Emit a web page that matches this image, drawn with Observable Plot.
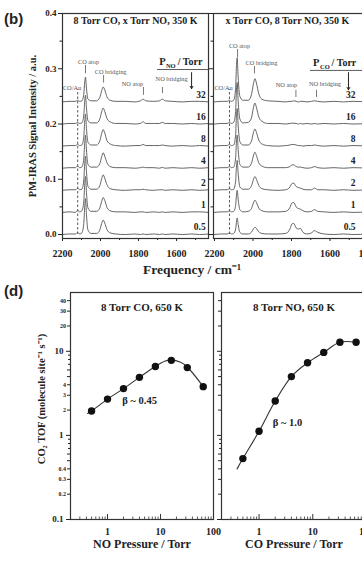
<!DOCTYPE html>
<html><head><meta charset="utf-8">
<script src="https://cdn.jsdelivr.net/npm/d3@7"></script>
<script src="https://cdn.jsdelivr.net/npm/@observablehq/plot@0.6"></script>
<style>
html,body{margin:0;padding:0;background:#fff;}
#fig{position:relative;width:362px;height:561px;overflow:hidden;background:#fff;color:#222;}
.lbl{position:absolute;font-weight:bold;white-space:nowrap;line-height:1;}
</style></head><body><div id="fig"></div>
<script>
// ---------- panel (b) data : PM-IRAS spectra ----------
const traceLabels = ["0.5", "1", "2", "4", "8", "16", "32"];
const traceOffsets = [0, 0.04, 0.08, 0.12, 0.16, 0.20, 0.24];

// left: 8 Torr CO, x Torr NO
const freqNO = [2200, 2160, 2132, 2120, 2110, 2098, 2088, 2083, 2079, 2074, 2066, 2050, 2020, 2004, 1994, 1986, 1978, 1966, 1950, 1920, 1870, 1820, 1790, 1776, 1762, 1720, 1690, 1675, 1660, 1620, 1570, 1520, 1480, 1432];
const specNO = [
  [0.000, 0.001, 0.001, 0.004, 0.001, 0.003, 0.020, 0.052, 0.065, 0.036, 0.008, 0.002, 0.002, 0.008, 0.020, 0.026, 0.021, 0.009, 0.003, 0.001, 0.000, 0.001, 0.000, 0.001, 0.000, 0.001, 0.000, 0.001, 0.000, 0.001, 0.000, 0.001, 0.000, 0.001],
  [0.000, 0.001, 0.000, 0.004, 0.001, 0.003, 0.020, 0.052, 0.065, 0.036, 0.008, 0.002, 0.002, 0.008, 0.020, 0.027, 0.022, 0.009, 0.003, 0.001, 0.001, 0.000, 0.001, 0.001, 0.000, 0.001, 0.000, 0.001, 0.000, 0.001, 0.000, 0.001, 0.001, 0.000],
  [0.000, 0.001, 0.001, 0.004, 0.001, 0.002, 0.019, 0.050, 0.062, 0.034, 0.007, 0.002, 0.002, 0.008, 0.021, 0.028, 0.022, 0.010, 0.003, 0.001, 0.000, 0.001, 0.001, 0.002, 0.001, 0.000, 0.001, 0.001, 0.000, 0.001, 0.000, 0.001, 0.000, 0.001],
  [0.000, 0.001, 0.001, 0.004, 0.001, 0.002, 0.018, 0.048, 0.060, 0.033, 0.007, 0.002, 0.002, 0.008, 0.021, 0.028, 0.022, 0.010, 0.003, 0.001, 0.001, 0.000, 0.001, 0.002, 0.001, 0.001, 0.000, 0.0015, 0.000, 0.001, 0.000, 0.001, 0.000, 0.001],
  [0.000, 0.001, 0.001, 0.003, 0.001, 0.002, 0.017, 0.046, 0.058, 0.032, 0.007, 0.002, 0.002, 0.009, 0.023, 0.030, 0.024, 0.010, 0.004, 0.001, 0.000, 0.001, 0.001, 0.003, 0.001, 0.001, 0.001, 0.002, 0.001, 0.000, 0.001, 0.000, 0.001, 0.000],
  [0.000, 0.001, 0.001, 0.003, 0.001, 0.002, 0.016, 0.042, 0.052, 0.029, 0.006, 0.002, 0.002, 0.009, 0.022, 0.029, 0.023, 0.010, 0.004, 0.001, 0.001, 0.000, 0.001, 0.004, 0.001, 0.001, 0.001, 0.003, 0.001, 0.001, 0.000, 0.001, 0.000, 0.001],
  [0.000, 0.001, 0.001, 0.003, 0.001, 0.002, 0.014, 0.036, 0.045, 0.025, 0.005, 0.002, 0.002, 0.008, 0.020, 0.027, 0.022, 0.009, 0.003, 0.001, 0.001, 0.000, 0.002, 0.005, 0.002, 0.001, 0.002, 0.005, 0.002, 0.001, 0.000, 0.001, 0.001, 0.000]
];

// right: x Torr CO, 8 Torr NO
const freqCO = [2200, 2160, 2134, 2122, 2112, 2100, 2090, 2086, 2082, 2077, 2068, 2052, 2024, 2008, 1998, 1990, 1982, 1970, 1954, 1924, 1870, 1830, 1808, 1798, 1788, 1776, 1764, 1754, 1740, 1720, 1696, 1680, 1664, 1630, 1580, 1530, 1480, 1400];
const specCO = [
  [0, 0.001, 0.001, 0.003, 0.001, 0.002, 0.010, 0.022, 0.030, 0.018, 0.004, 0.001, 0.001, 0.004, 0.010, 0.013, 0.011, 0.005, 0.002, 0.001, 0.001, 0.002, 0.010, 0.019, 0.020, 0.012, 0.010, 0.011, 0.004, 0.001, 0.003, 0.007, 0.004, 0.001, 0.000, 0.001, 0.000, 0.001],
  [0, 0.001, 0.001, 0.003, 0.001, 0.002, 0.013, 0.030, 0.040, 0.024, 0.005, 0.001, 0.002, 0.007, 0.017, 0.022, 0.018, 0.008, 0.003, 0.001, 0.001, 0.002, 0.009, 0.017, 0.018, 0.010, 0.007, 0.006, 0.003, 0.001, 0.002, 0.005, 0.002, 0.001, 0.000, 0.001, 0.000, 0.001],
  [0, 0.001, 0.001, 0.003, 0.001, 0.002, 0.017, 0.042, 0.054, 0.031, 0.006, 0.002, 0.002, 0.008, 0.019, 0.025, 0.020, 0.009, 0.003, 0.001, 0.000, 0.001, 0.006, 0.012, 0.013, 0.007, 0.005, 0.004, 0.002, 0.001, 0.001, 0.004, 0.001, 0.001, 0.000, 0.001, 0.000, 0.001],
  [0, 0.001, 0.001, 0.003, 0.001, 0.002, 0.019, 0.047, 0.060, 0.034, 0.007, 0.002, 0.002, 0.009, 0.022, 0.029, 0.023, 0.010, 0.004, 0.001, 0.001, 0.001, 0.003, 0.006, 0.006, 0.003, 0.002, 0.002, 0.001, 0.000, 0.001, 0.003, 0.001, 0.000, 0.001, 0.000, 0.001, 0.000],
  [0, 0.001, 0.001, 0.003, 0.001, 0.002, 0.021, 0.054, 0.068, 0.038, 0.008, 0.002, 0.002, 0.009, 0.024, 0.031, 0.025, 0.011, 0.004, 0.001, 0.000, 0.001, 0.002, 0.003, 0.003, 0.002, 0.001, 0.001, 0.000, 0.001, 0.001, 0.002, 0.001, 0.000, 0.001, 0.000, 0.001, 0.000],
  [0, 0.001, 0.001, 0.003, 0.001, 0.003, 0.023, 0.060, 0.075, 0.042, 0.009, 0.002, 0.003, 0.011, 0.029, 0.038, 0.030, 0.013, 0.005, 0.001, 0.001, 0.000, 0.001, 0.0015, 0.0015, 0.001, 0.000, 0.001, 0.000, 0.001, 0.000, 0.001, 0.000, 0.001, 0.000, 0.001, 0.000, 0.001],
  [0, 0.001, 0.001, 0.003, 0.001, 0.003, 0.025, 0.064, 0.080, 0.045, 0.010, 0.003, 0.003, 0.013, 0.032, 0.042, 0.034, 0.015, 0.005, 0.002, 0.001, 0.000, 0.001, 0.001, 0.002, 0.001, 0.000, 0.001, 0.001, 0.000, 0.001, 0.002, 0.001, 0.000, 0.001, 0.000, 0.001, 0.000]
];

const yTicksB = [0, 0.1, 0.2, 0.3, 0.4];
const yMinorB = [0.05, 0.15, 0.25, 0.35];
const xTicksB = [2200, 2000, 1800, 1600, 1400];
const xMinorB = [2100, 1900, 1700, 1500];

// peak annotations (frequency / intensity)
const peaksNO = [
  {t: "CO atop", f: 2063, v: 0.313, tick: 2079, v1: 0.306, v2: 0.291},
  {t: "CO bridging", f: 1947, v: 0.295, tick: 1984, v1: 0.288, v2: 0.274},
  {t: "NO atop", f: 1832, v: 0.273, tick: 1774, v1: 0.266, v2: 0.252},
  {t: "NO bridging", f: 1626, v: 0.281, tick: 1674, v1: 0.266, v2: 0.255},
  {t: "CO/Au", f: 2150, v: 0.266}
];
const peaksCO = [
  {t: "CO atop", f: 2070, v: 0.342, tick: 2080, v1: 0.335, v2: 0.320},
  {t: "CO bridging", f: 1956, v: 0.311, tick: 1992, v1: 0.304, v2: 0.291},
  {t: "NO atop", f: 1826, v: 0.2715, tick: 1777, v1: 0.261, v2: 0.248},
  {t: "NO bridging", f: 1626, v: 0.273, tick: 1670, v1: 0.261, v2: 0.248},
  {t: "CO/Au", f: 2153, v: 0.266}
];

// ---------- panel (d) data : CO2 TOF ----------
const pressNO = [0.5, 1, 2, 4, 8, 16, 32, 64];
const tofNO = [1.95, 2.7, 3.6, 4.9, 6.6, 7.8, 6.4, 3.8];
const fitNOx = [0.42, 0.5, 1, 2, 4, 8, 12, 16, 24, 32, 64];
const fitNOy = [1.82, 1.95, 2.7, 3.6, 4.9, 6.6, 7.6, 7.9, 7.4, 6.5, 3.8];
const pressCO = [0.5, 1, 2, 4, 8, 16, 32, 64];
const tofCO = [0.53, 1.12, 2.56, 5.0, 7.3, 9.7, 12.8, 12.8];
const fitCOx = [0.39, 0.5, 1, 2, 4, 8, 16, 32, 64];
const fitCOy = [0.40, 0.53, 1.12, 2.56, 5.0, 7.3, 9.7, 12.8, 12.8];

const yMajorD = [0.1, 1, 10];
const yMinorLabD = [0.2, 0.3, 0.4, 0.5, 0.6, 2, 3, 4, 5, 6, 20, 30, 40];
const yMinorD = [0.7, 0.8, 0.9, 7, 8, 9];
const xMajorD = [1, 10, 100];
const xMinorD = [0.2, 0.3, 0.4, 0.5, 0.6, 0.7, 0.8, 0.9, 2, 3, 4, 5, 6, 7, 8, 9, 20, 30, 40, 50, 60, 70, 80, 90];

// ---------- drawing ----------
const fig = document.getElementById("fig");
const serif = "'Liberation Serif', 'Times New Roman', serif";
const baseStyle = {fontFamily: serif, fontWeight: "bold", fontSize: "9px", color: "#222", background: "transparent", overflow: "visible"};
const blank = () => "";

function place(el, left, top) {
  el.style.position = "absolute";
  el.style.left = left + "px";
  el.style.top = top + "px";
  fig.appendChild(el);
  return el;
}

function spectrum(o) {
  const rows = [];
  o.spec.forEach((vals, i) => vals.forEach((v, j) => rows.push({f: o.freq[j], y: traceOffsets[i] + v, trace: traceLabels[i]})));
  const tLabels = traceLabels.map((t, i) => ({t, f: o.labelF, v: traceOffsets[i] + 0.013}));
  const marks = [
    Plot.axisY({ticks: yTicksB, tickSize: 4, tickPadding: 2, fontSize: 9, tickFormat: o.yLabels ? d3.format(".1f") : blank, label: null}),
    Plot.axisY({ticks: yMinorB, tickSize: 2.5, tickFormat: blank, label: null}),
    Plot.axisX({ticks: o.xTicks, tickSize: 3, tickPadding: 8, fontSize: 10, tickFormat: d => String(d), label: null}),
    Plot.axisX({ticks: o.xMinor, tickSize: 2, tickFormat: blank, label: null}),
    Plot.ruleX([{f: o.coAu, a: 0, b: 0.262}], {x: "f", y1: "a", y2: "b", stroke: "#444", strokeWidth: 0.9, strokeDasharray: "2.5,2"}),
    Plot.line(rows, {x: "f", y: "y", z: "trace", curve: "monotone-x", stroke: "#555", strokeWidth: 0.9}),
    Plot.ruleX(o.peaks.filter(p => p.tick), {x: "tick", y1: "v1", y2: "v2", stroke: "#555", strokeWidth: 0.8}),
    Plot.text(o.peaks, {x: "f", y: "v", text: "t", fontSize: 6.3, fontWeight: "normal", fill: "#555", ariaLabel: "peak label"}),
    Plot.text(tLabels, {x: "f", y: "v", text: "t", textAnchor: "end", fontSize: 9.5}),
    Plot.text([o.title], {x: "f", y: "v", text: "t", fontSize: 10}),
    Plot.text(o.pParts, {x: "f", y: "v", text: "t", textAnchor: "start", fontSize: d => d.s}),
    Plot.ruleY([o.pLine], {y: "v", x1: "a", x2: "b", stroke: "#333", strokeWidth: 0.8}),
    Plot.arrow([o.pArrow], {x1: "f", x2: "f", y1: "v1", y2: "v2", headLength: 4, stroke: "#222", strokeWidth: 1}),
    Plot.frame({stroke: "#333", strokeWidth: 1.2})
  ];
  if (o.yTitle) marks.push(Plot.text([o.yTitle], {frameAnchor: "left", textAnchor: "middle", text: d => d, rotate: -90, dx: -30, fontSize: 10.5}));
  const svg = Plot.plot({
    width: o.width, height: 262,
    marginLeft: o.ml, marginRight: o.mr, marginTop: 13, marginBottom: 24,
    x: {domain: o.domain, label: null},
    y: {domain: [-0.0072, 0.4], label: null},
    style: baseStyle,
    marks
  });
  d3.select(svg).selectAll('g[aria-label="peak label"] text').style("text-decoration", "underline");
  return svg;
}

function tofPlot(o) {
  const pts = o.px.map((p, i) => ({p, t: o.py[i]}));
  const fit = o.fx.map((p, i) => ({p, t: o.fy[i]}));
  const marks = [
    Plot.axisY({ticks: yMajorD, tickSize: 4, tickPadding: 3, fontSize: 9, tickFormat: o.yLabels ? d => String(d) : blank, label: null}),
    Plot.axisY({ticks: yMinorLabD, tickSize: 3, tickPadding: 1.5, fontSize: 6, tickFormat: o.yLabels ? d => String(d) : blank, label: null}),
    Plot.axisY({ticks: yMinorD, tickSize: 2, tickFormat: blank, label: null}),
    Plot.axisX({ticks: xMajorD, tickSize: 0, tickPadding: 8, fontSize: 10, tickFormat: d => String(d), label: null}),
    Plot.tickX(xMajorD.map(p => ({p})), {x: "p", insetTop: 222, stroke: "#333", strokeWidth: 1}),
    Plot.tickX(xMinorD.map(p => ({p})), {x: "p", insetTop: 224.5, stroke: "#333", strokeWidth: 0.8}),
    Plot.line(fit, {x: "p", y: "t", curve: "catmull-rom", stroke: "#333", strokeWidth: 1.1}),
    Plot.dot(pts, {x: "p", y: "t", r: 3.7, fill: "#111", stroke: "none"}),
    Plot.text([o.title], {frameAnchor: "top", dy: 11, text: d => d, fontSize: 11}),
    Plot.text([o.beta], {x: "p", y: "t", text: "s", textAnchor: "start", fontSize: 10.5}),
    Plot.text([o.xTitle], {frameAnchor: "bottom", dy: 28, text: d => d, fontSize: 12}),
    Plot.frame({stroke: "#333", strokeWidth: 1.2})
  ];
  if (o.yTitle) marks.push(Plot.text([o.yTitle], {frameAnchor: "left", textAnchor: "middle", text: d => d, rotate: -90, dx: -29, dy: -7, fontSize: 10.5}));
  return Plot.plot({
    width: o.width, height: 291,
    marginLeft: o.ml, marginRight: o.mr, marginTop: 22, marginBottom: 42,
    x: {type: "log", domain: [0.2, 100], label: null},
    y: {type: "log", domain: [0.1, 50], label: null},
    style: baseStyle,
    marks
  });
}

// (b) right
place(spectrum({
  freq: freqCO, spec: specCO, width: 222, ml: 63, mr: 4, domain: [2205, 1400],
  xTicks: xTicksB, xMinor: xMinorB, yLabels: false, coAu: 2122, labelF: 1467,
  peaks: peaksCO,
  title: {t: "x Torr CO, 8 Torr NO, 350 K", f: 1821, v: 0.387},
  pParts: [{t: "P", f: 1688, v: 0.311, s: 10.5}, {t: "CO", f: 1652, v: 0.303, s: 6.5}, {t: "/ Torr", f: 1592, v: 0.311, s: 10}],
  pLine: {v: 0.297, a: 1701, b: 1400},
  pArrow: {f: 1504, v1: 0.293, v2: 0.262}
}), 150, 0);

// (b) left
place(spectrum({
  freq: freqNO, spec: specNO, width: 210, ml: 62, mr: 2, domain: [2200, 1432],
  xTicks: xTicksB.filter(d => d >= 1432), xMinor: xMinorB, yLabels: true, coAu: 2120, labelF: 1447,
  peaks: peaksNO,
  title: {t: "8 Torr CO, x Torr NO, 350 K", f: 1816, v: 0.387},
  pParts: [{t: "P", f: 1691, v: 0.313, s: 10.5}, {t: "NO", f: 1656, v: 0.305, s: 6.5}, {t: "/ Torr", f: 1594, v: 0.313, s: 10}],
  pLine: {v: 0.2986, a: 1700, b: 1432},
  pArrow: {f: 1521, v1: 0.293, v2: 0.264},
  yTitle: "PM-IRAS Signal Intensity / a.u."
}), 0, 0);

// (d) right
place(tofPlot({
  px: pressCO, py: tofCO, fx: fitCOx, fy: fitCOy, width: 220, ml: 71, mr: 4, yLabels: false,
  title: "8 Torr NO, 650 K", beta: {p: 1.8, t: 1.43, s: "β ~ 1.0"}, xTitle: "CO Pressure / Torr"
}), 150, 270);

// (d) left
place(tofPlot({
  px: pressNO, py: tofNO, fx: fitNOx, fy: fitNOy, width: 215, ml: 70, mr: 2, yLabels: true,
  title: "8 Torr CO, 650 K", beta: {p: 1.9, t: 2.6, s: "β ~ 0.45"}, xTitle: "NO Pressure / Torr",
  yTitle: "CO\u2082 TOF (molecule site\u207B\u00B9 s\u207B\u00B9)"
}), 0, 270);

// panel letters and shared x title
function label(text, left, top, size, family, center) {
  const d = document.createElement("div");
  d.className = "lbl";
  d.textContent = text;
  d.style.fontSize = size + "px";
  d.style.fontFamily = family;
  if (center) d.style.transform = "translateX(-50%)";
  return place(d, left, top);
}
label("(b)", 4, 11, 15, "'Liberation Sans', Arial, sans-serif");
label("(d)", 4, 283, 15, "'Liberation Sans', Arial, sans-serif");
label("Frequency / cm\u207B\u00B9", 192, 263, 13.5, serif, true);
</script></body></html>
